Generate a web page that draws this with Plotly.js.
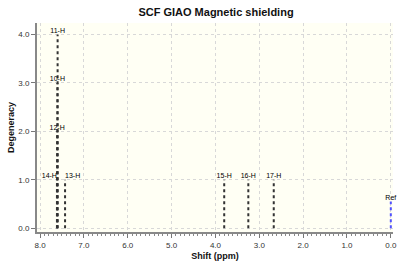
<!DOCTYPE html>
<html><head><meta charset="utf-8">
<script src="https://cdn.plot.ly/plotly-3.0.1.min.js"></script>
<style>html,body{margin:0;padding:0;background:#fff}#chart{width:400px;height:262px}</style>
</head><body><div id="chart"></div>
<script>
const labels = ["11-H","10-H","12-H","14-H","13-H","15-H","16-H","17-H"];
const shifts = [7.60, 7.605, 7.61, 7.615, 7.43, 3.80, 3.25, 2.67];
const degeneracy = [4, 3, 2, 1, 1, 1, 1, 1];
const refShift = [0.0];
const refHeight = [0.55];
const refLabel = ["Ref"];

const lx = [], ly = [];
shifts.forEach((s,i)=>{ lx.push(s,s,null); ly.push(0,degeneracy[i],null); });
const rx = [], ry = [];
refShift.forEach((s,i)=>{ rx.push(s,s,null); ry.push(0,refHeight[i],null); });
const tpos = labels.map(l => l==='14-H' ? 'top left' : (l==='13-H' ? 'top right' : 'top center'));

const traces = [
  {x:lx, y:ly, mode:'lines', line:{color:'#333', width:2, dash:'dot'}, hoverinfo:'skip', showlegend:false},
  {x:rx, y:ry, mode:'lines', line:{color:'#5050ff', width:2, dash:'dot'}, hoverinfo:'skip', showlegend:false},
  {x:shifts, y:degeneracy, mode:'text', text:labels, textposition:tpos,
   textfont:{family:'Liberation Sans, Arial', size:7, color:'#000'}, showlegend:false, cliponaxis:false},
  {x:refShift, y:refHeight, mode:'text', text:refLabel, textposition:'top center',
   textfont:{family:'Liberation Sans, Arial', size:7, color:'#000'}, showlegend:false, cliponaxis:false}
];

const layout = {
  width:400, height:262,
  margin:{l:37, r:7, t:23, b:30},
  paper_bgcolor:'#fff', plot_bgcolor:'#fffff4',
  title:{text:'<b>SCF GIAO Magnetic shielding</b>', x:0.54, xanchor:'center', y:0.97, yanchor:'top',
         font:{family:'Liberation Sans, Arial', size:11, color:'#111'}},
  xaxis:{range:[8.07,-0.05], tickvals:[8,7,6,5,4,3,2,1,0], ticktext:['8.0','7.0','6.0','5.0','4.0','3.0','2.0','1.0','0.0'],
         ticks:'outside', ticklen:4, tickcolor:'#777', showline:true, linecolor:'#888', linewidth:2,
         showgrid:true, gridcolor:'#d8d8d8', griddash:'dot', gridwidth:1, zeroline:false,
         minor:{dtick:0.1, ticks:'outside', ticklen:2, tickcolor:'#888', showgrid:false},
         tickfont:{family:'Liberation Sans, Arial', size:8, color:'#333'},
         title:{text:'<b>Shift (ppm)</b>', standoff:4, font:{family:'Liberation Sans, Arial', size:9, color:'#111'}}},
  yaxis:{range:[-0.08,4.24], tickvals:[0,1,2,3,4], ticktext:['0.0','1.0','2.0','3.0','4.0'],
         ticks:'outside', ticklen:4, tickcolor:'#777', showline:true, linecolor:'#888', linewidth:2,
         showgrid:true, gridcolor:'#d8d8d8', griddash:'dot', gridwidth:1, zeroline:false,
         tickfont:{family:'Liberation Sans, Arial', size:8, color:'#333'},
         title:{text:'<b>Degeneracy</b>', standoff:2, font:{family:'Liberation Sans, Arial', size:9, color:'#111'}}}
};
Plotly.newPlot('chart', traces, layout, {displayModeBar:false, staticPlot:true});
</script></body></html>
